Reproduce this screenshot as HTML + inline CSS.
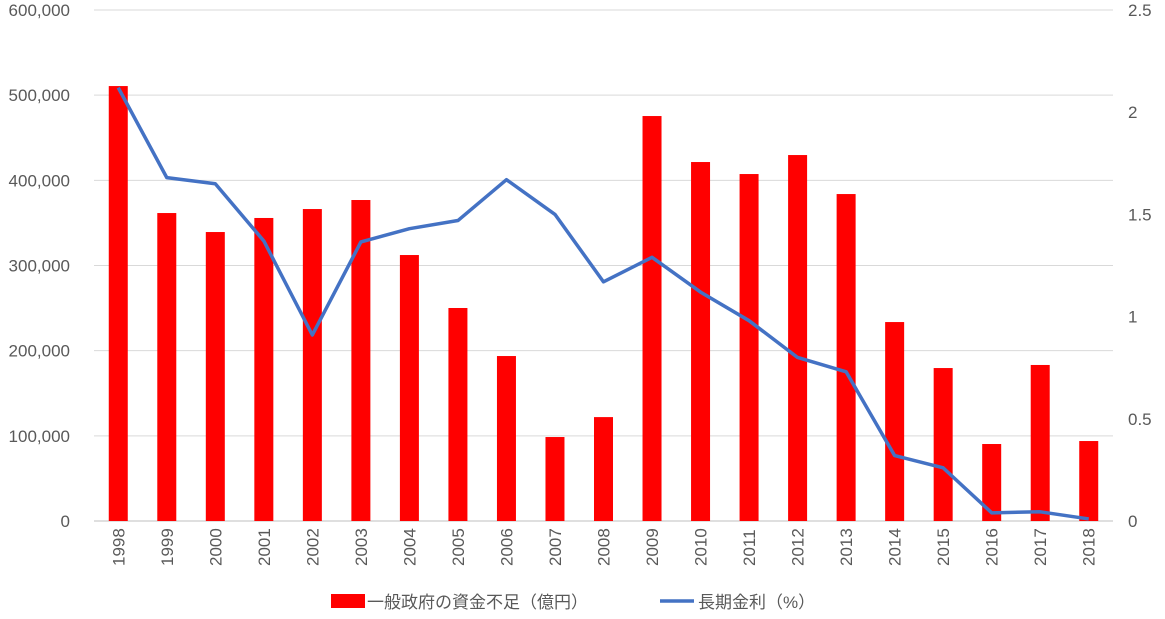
<!DOCTYPE html>
<html><head><meta charset="utf-8"><style>
body{margin:0;background:#fff;font-family:"Liberation Sans","Noto Sans CJK JP",sans-serif}
svg text{font-family:"Liberation Sans","Noto Sans CJK JP",sans-serif;fill:#595959}
</style></head><body>
<svg id="chart" width="1165" height="614" xmlns="http://www.w3.org/2000/svg">
<g id="grid"></g>
<g id="bars"></g>
<g id="line"></g>
<g id="axes"></g>
<g>
<rect x="331" y="594" width="34" height="14" fill="#ff0000"/>
<text x="367" y="608" font-size="17">一般政府の資金不足（億円）</text>
<line x1="660" y1="601" x2="694" y2="601" stroke="#4472c4" stroke-width="3.5"/>
<text x="698" y="608" font-size="17">長期金利（%）</text>
</g>
</svg>
<script>
const categories=["1998","1999","2000","2001","2002","2003","2004","2005","2006","2007","2008","2009","2010","2011","2012","2013","2014","2015","2016","2017","2018"];
const deficitValues=[510700,361600,339300,355800,366300,376900,312300,250100,193700,98600,122000,475500,421500,407400,429700,383900,233600,179600,90400,183200,93900];
const rateValues=[2.12,1.68,1.65,1.37,0.91,1.365,1.43,1.47,1.67,1.50,1.17,1.29,1.12,0.98,0.80,0.73,0.32,0.26,0.04,0.045,0.01];
const leftTicks=[0,100000,200000,300000,400000,500000,600000];
const rightTicks=["0","0.5","1","1.5","2","2.5"];
const NS="http://www.w3.org/2000/svg";
const L=94,R=1113,T=10,B=521;
const step=(R-L)/categories.length;
const x=i=>L+step*(i+0.5);
const yL=v=>B-(B-T)*v/600000;
const yR=v=>B-(B-T)*v/2.5;
function mk(tag,attrs,parent){const e=document.createElementNS(NS,tag);for(const k in attrs)e.setAttribute(k,attrs[k]);document.getElementById(parent).appendChild(e);return e;}
leftTicks.forEach((t,i)=>{
 const g=mk("line",{x1:L,x2:R,y1:yL(t),y2:yL(t),stroke:i==0?"#bfbfbf":"#d9d9d9","stroke-width":1},"grid");
 
 
 const tx=mk("text",{x:70,y:yL(t)+6,"text-anchor":"end","font-size":17},"axes");
 tx.textContent=t.toLocaleString("en-US");
 
 
});
rightTicks.forEach(t=>{
 const tx=mk("text",{x:1128,y:yR(parseFloat(t))+6,"font-size":17},"axes");
 tx.textContent=t;
 
 
});
categories.forEach((c,i)=>{
 const b=mk("rect",{x:x(i)-9.5,y:yL(deficitValues[i]),width:19,height:B-yL(deficitValues[i]),fill:"#ff0000"},"bars");
 
 
 const tx=mk("text",{transform:`translate(${x(i)+6},566) rotate(-90)`,"font-size":17},"axes");
 tx.textContent=c;
 
 
});
const p=mk("polyline",{points:rateValues.map((v,i)=>x(i)+","+yR(v)).join(" "),fill:"none",stroke:"#4472c4","stroke-width":3.5,"stroke-linejoin":"round"},"line");


</script>
</body></html>
